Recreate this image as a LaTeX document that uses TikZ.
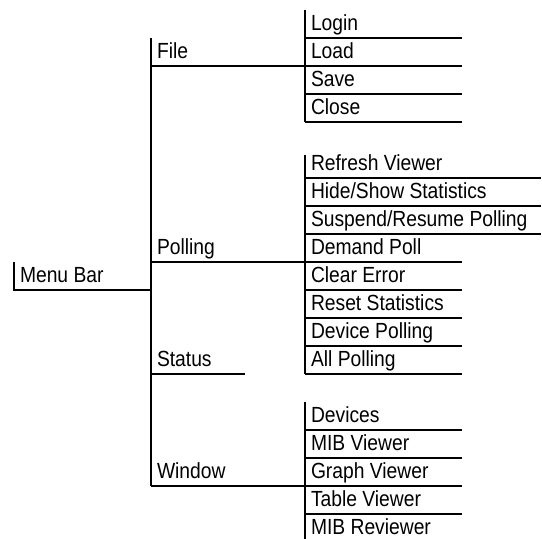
\documentclass[tikz,border=0pt]{standalone}
\usepackage{fontspec}
\setmainfont{Liberation Sans}[FakeStretch=0.88]
\begin{document}
\begin{tikzpicture}[x=1pt, y=-1pt, line width=2pt,
  lbl/.style={anchor=base west, inner sep=0pt, font=\fontsize{21.9}{24}\selectfont},
  rule/.style={draw=black, line width=2pt}]
\useasboundingbox (0,0) rectangle (542,539);

% column positions of the three menu levels
\def\xa{14}\def\xb{151}\def\xc{305}

% ---- top level ----
\coordinate (mbtop) at (\xa,262);
\coordinate (mbbot) at (\xa,290);
\coordinate (spinejoin) at (\xb,290);
\coordinate (spinetop) at (\xb,38);
\coordinate (spinebot) at (\xb,486);
\node[lbl] (menubar) at (\xa+5,282) {Menu Bar};
\draw[rule] (mbtop) -- (mbbot) -- (spinejoin);
\draw[rule] (spinetop) -- (spinebot);

% ---- second level ----
\node[lbl] (file)    at (\xb+5,58)  {File};
\node[lbl] (polling) at (\xb+5,254) {Polling};
\node[lbl] (status)  at (\xb+5,366) {Status};
\node[lbl] (window)  at (\xb+5,478) {Window};
\coordinate (fileL) at (\xb,66);   \coordinate (fileR) at (\xc,66);
\coordinate (pollL) at (\xb,262);  \coordinate (pollR) at (462,262);
\coordinate (statL) at (\xb,374);  \coordinate (statR) at (245,374);
\coordinate (winL)  at (\xb,486);  \coordinate (winR)  at (462,486);
\draw[rule] (fileL) -- (fileR);
\draw[rule] (pollL) -- (pollR);
\draw[rule] (statL) -- (statR);
\draw[rule] (winL)  -- (winR);

% ---- File submenu ----
\coordinate (fsTop) at (\xc,10); \coordinate (fsBot) at (\xc,122);
\draw[rule] (fsTop) -- (fsBot);
\foreach \y/\t/\n in {38/Login/login, 66/Load/load, 94/Save/save, 122/Close/close}{
  \node[lbl] (\n) at (\xc+5,\y-8) {\t};
  \draw[rule] (\xc,\y) coordinate (\n L) -- (462,\y) coordinate (\n R);
}

% ---- Polling submenu ----
\coordinate (psTop) at (\xc,155); \coordinate (psBot) at (\xc,374);
\draw[rule] (psTop) -- (psBot);
\foreach \y/\t/\n in {178/Refresh Viewer/refresh, 206/Hide\slash Show Statistics/hideshow,
                      234/Suspend\slash Resume Polling/suspend}{
  \node[lbl] (\n) at (\xc+5,\y-8) {\t};
  \draw[rule] (\xc,\y) coordinate (\n L) -- (541,\y) coordinate (\n R);
}
\node[lbl] (demand) at (\xc+5,254) {Demand Poll};

% ---- Status submenu ----
\foreach \y/\t/\n in {290/Clear Error/clear, 318/Reset Statistics/reset,
                      346/Device Polling/devpoll, 374/All Polling/allpoll}{
  \node[lbl] (\n) at (\xc+5,\y-8) {\t};
  \draw[rule] (\xc,\y) coordinate (\n L) -- (462,\y) coordinate (\n R);
}

% ---- Window submenu ----
\coordinate (wsTop) at (\xc,402); \coordinate (wsBot) at (\xc,539);
\draw[rule] (wsTop) -- (wsBot);
\foreach \y/\t/\n in {430/Devices/devices, 458/MIB Viewer/mibview, 514/Table Viewer/tableview}{
  \node[lbl] (\n) at (\xc+5,\y-8) {\t};
  \draw[rule] (\xc,\y) coordinate (\n L) -- (462,\y) coordinate (\n R);
}
\node[lbl] (graphview) at (\xc+5,478) {Graph Viewer};
\node[lbl] (mibrev)    at (\xc+5,534) {MIB Reviewer};

\end{tikzpicture}
\end{document}
